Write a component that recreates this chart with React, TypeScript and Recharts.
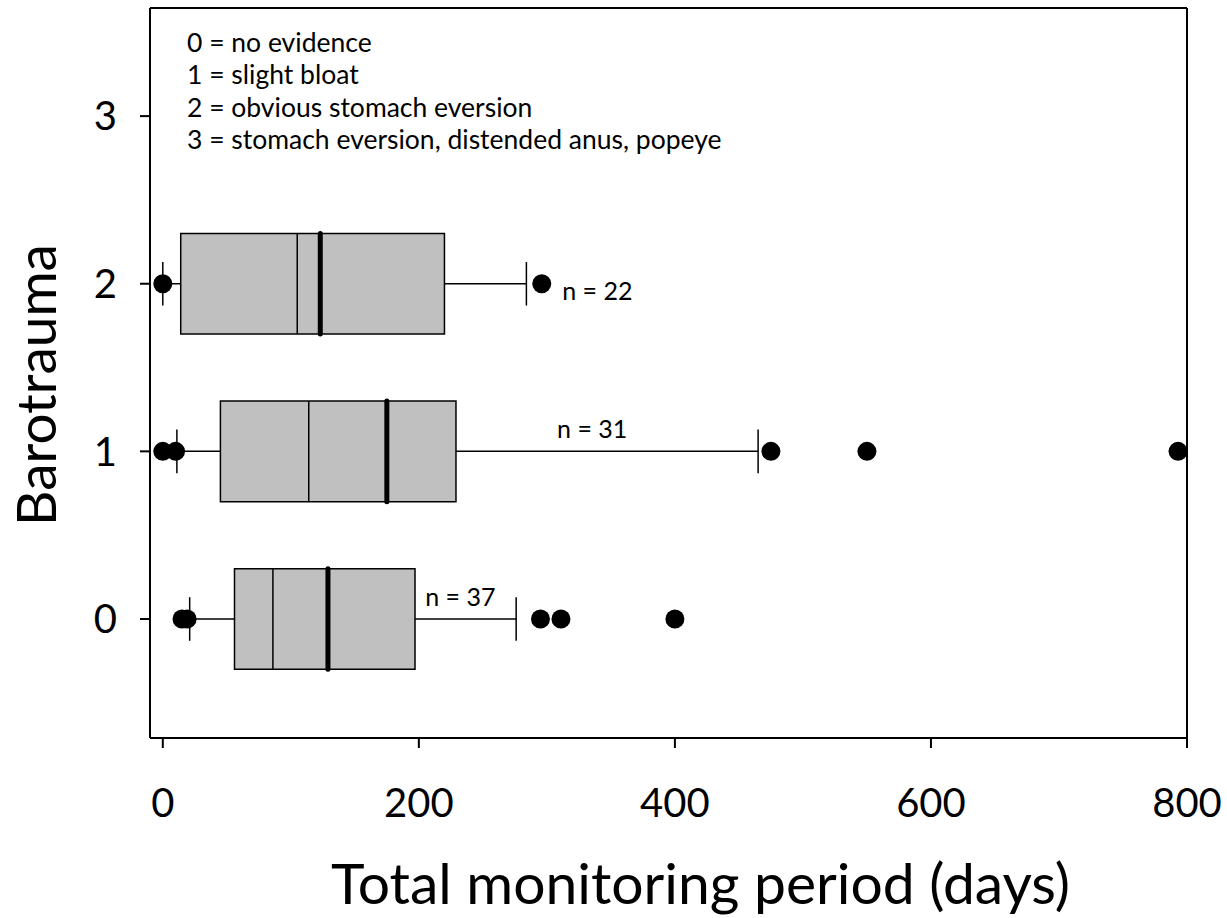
import { ReferenceArea, ReferenceLine, Scatter, ScatterChart, XAxis, YAxis } from 'recharts'

const FONT = 'Lato, "Open Sans", sans-serif'

// barotrauma score of each box, with its sample size
const groups = [0, 1, 2]
const sampleSizes = [37, 31, 22]

// box plot summary per group, in days (whiskers = 10th/90th percentile)
const whiskerLow = [21, 11, 0]
const quartile1 = [56, 45, 14]
const means = [86, 114, 105]
const medians = [129, 175, 123]
const quartile3 = [197, 229, 220]
const whiskerHigh = [276, 465, 284]

// fish outside the whiskers, in days
const outliers0 = [15, 19, 295, 311, 400]
const outliers1 = [0, 10, 475, 550, 793]
const outliers2 = [0, 296]

// anchor of each "n = .." note (days, score)
const nLabelX = [205, 308, 312]
const nLabelY = [0.14, 1.14, 1.96]

const xTicks = [0, 200, 400, 600, 800]
const yTicks = [0, 1, 2, 3]

const legendLines = [
  '0 = no evidence',
  '1 = slight bloat',
  '2 = obvious stomach eversion',
  '3 = stomach eversion, distended anus, popeye',
]

const W = 1227
const H = 918
const X_DOMAIN: [number, number] = [-10, 800]
const Y_DOMAIN: [number, number] = [-0.71, 3.645]
const BOX_HALF = 0.3
const CAP_HALF = 0.13

export default function App() {
  const dots = [
    ...outliers0.map((x) => ({ x, y: 0 })),
    ...outliers1.map((x) => ({ x, y: 1 })),
    ...outliers2.map((x) => ({ x, y: 2 })),
  ]
  const nLabels = groups.map((g, i) => ({ x: nLabelX[i], y: nLabelY[i], text: `n = ${sampleSizes[i]}` }))
  const line = { stroke: '#000', strokeWidth: 1.5, ifOverflow: 'visible' as const }

  return (
    <div style={{ position: 'absolute', left: 0, top: 0, width: W, height: H, background: '#fff' }}>
      <ScatterChart width={W} height={H} margin={{ top: 8, right: 40, bottom: 0, left: 0 }}>
        <XAxis
          type="number"
          dataKey="x"
          domain={X_DOMAIN}
          ticks={xTicks}
          allowDataOverflow
          height={180}
          axisLine={{ stroke: '#000', strokeWidth: 2 }}
          tickLine={{ stroke: '#000', strokeWidth: 2 }}
          tickSize={10}
          tickMargin={41}
          tick={{ fill: '#000', fontSize: 40, fontFamily: FONT }}
          label={(p: any) => (
            <text
              x={p.viewBox.x + p.viewBox.width / 2 + 32}
              y={p.viewBox.y + 166}
              textAnchor="middle"
              fontSize={57}
              fontFamily={FONT}
              fill="#000"
            >
              Total monitoring period (days)
            </text>
          )}
        />
        <YAxis
          type="number"
          dataKey="y"
          domain={Y_DOMAIN}
          ticks={yTicks}
          allowDataOverflow
          width={150}
          axisLine={{ stroke: '#000', strokeWidth: 2 }}
          tickLine={{ stroke: '#000', strokeWidth: 2 }}
          tickSize={10}
          tickMargin={23}
          tick={{ fill: '#000', fontSize: 40, fontFamily: FONT }}
          label={(p: any) => {
            const cx = 56
            const cy = p.viewBox.y + p.viewBox.height / 2 + 12
            return (
              <text
                x={cx}
                y={cy}
                transform={`rotate(-90 ${cx} ${cy})`}
                textAnchor="middle"
                fontSize={55}
                fontFamily={FONT}
                fill="#000"
              >
                Barotrauma
              </text>
            )
          }}
        />
        {/* top and right sides of the frame */}
        <ReferenceLine y={Y_DOMAIN[1]} stroke="#000" strokeWidth={2} ifOverflow="visible" />
        <ReferenceLine x={X_DOMAIN[1]} stroke="#000" strokeWidth={2} ifOverflow="visible" />

        {groups.map((g, i) => (
          <ReferenceArea
            key={`box${g}`}
            x1={quartile1[i]}
            x2={quartile3[i]}
            y1={g - BOX_HALF}
            y2={g + BOX_HALF}
            fill="#c0c0c0"
            fillOpacity={1}
            stroke="#000"
            strokeWidth={1.5}
            ifOverflow="visible"
          />
        ))}
        {groups.map((g, i) => [
          <ReferenceLine key={`wl${g}`} segment={[{ x: whiskerLow[i], y: g }, { x: quartile1[i], y: g }]} {...line} />,
          <ReferenceLine key={`wh${g}`} segment={[{ x: quartile3[i], y: g }, { x: whiskerHigh[i], y: g }]} {...line} />,
          <ReferenceLine
            key={`cl${g}`}
            segment={[{ x: whiskerLow[i], y: g - CAP_HALF }, { x: whiskerLow[i], y: g + CAP_HALF }]}
            {...line}
          />,
          <ReferenceLine
            key={`ch${g}`}
            segment={[{ x: whiskerHigh[i], y: g - CAP_HALF }, { x: whiskerHigh[i], y: g + CAP_HALF }]}
            {...line}
          />,
          <ReferenceLine
            key={`mean${g}`}
            segment={[{ x: means[i], y: g - BOX_HALF }, { x: means[i], y: g + BOX_HALF }]}
            {...line}
          />,
          <ReferenceLine
            key={`med${g}`}
            segment={[{ x: medians[i], y: g - BOX_HALF }, { x: medians[i], y: g + BOX_HALF }]}
            stroke="#000"
            strokeWidth={5}
            strokeLinecap="round"
            ifOverflow="visible"
          />,
        ])}

        <Scatter
          data={dots}
          isAnimationActive={false}
          shape={(p: any) => <circle cx={p.cx} cy={p.cy} r={9.5} fill="#000" />}
        />
        <Scatter
          data={nLabels}
          isAnimationActive={false}
          shape={(p: any) => (
            <text x={p.cx} y={p.cy} dominantBaseline="central" fontSize={25} fontFamily={FONT} fill="#000">
              {p.payload.text}
            </text>
          )}
        />
      </ScatterChart>
      <div
        style={{
          position: 'absolute',
          left: 187,
          top: 26,
          fontFamily: FONT,
          fontSize: 26.5,
          lineHeight: '32.3px',
          color: '#000',
        }}
      >
        {legendLines.map((t) => (
          <div key={t}>{t}</div>
        ))}
      </div>
    </div>
  )
}
